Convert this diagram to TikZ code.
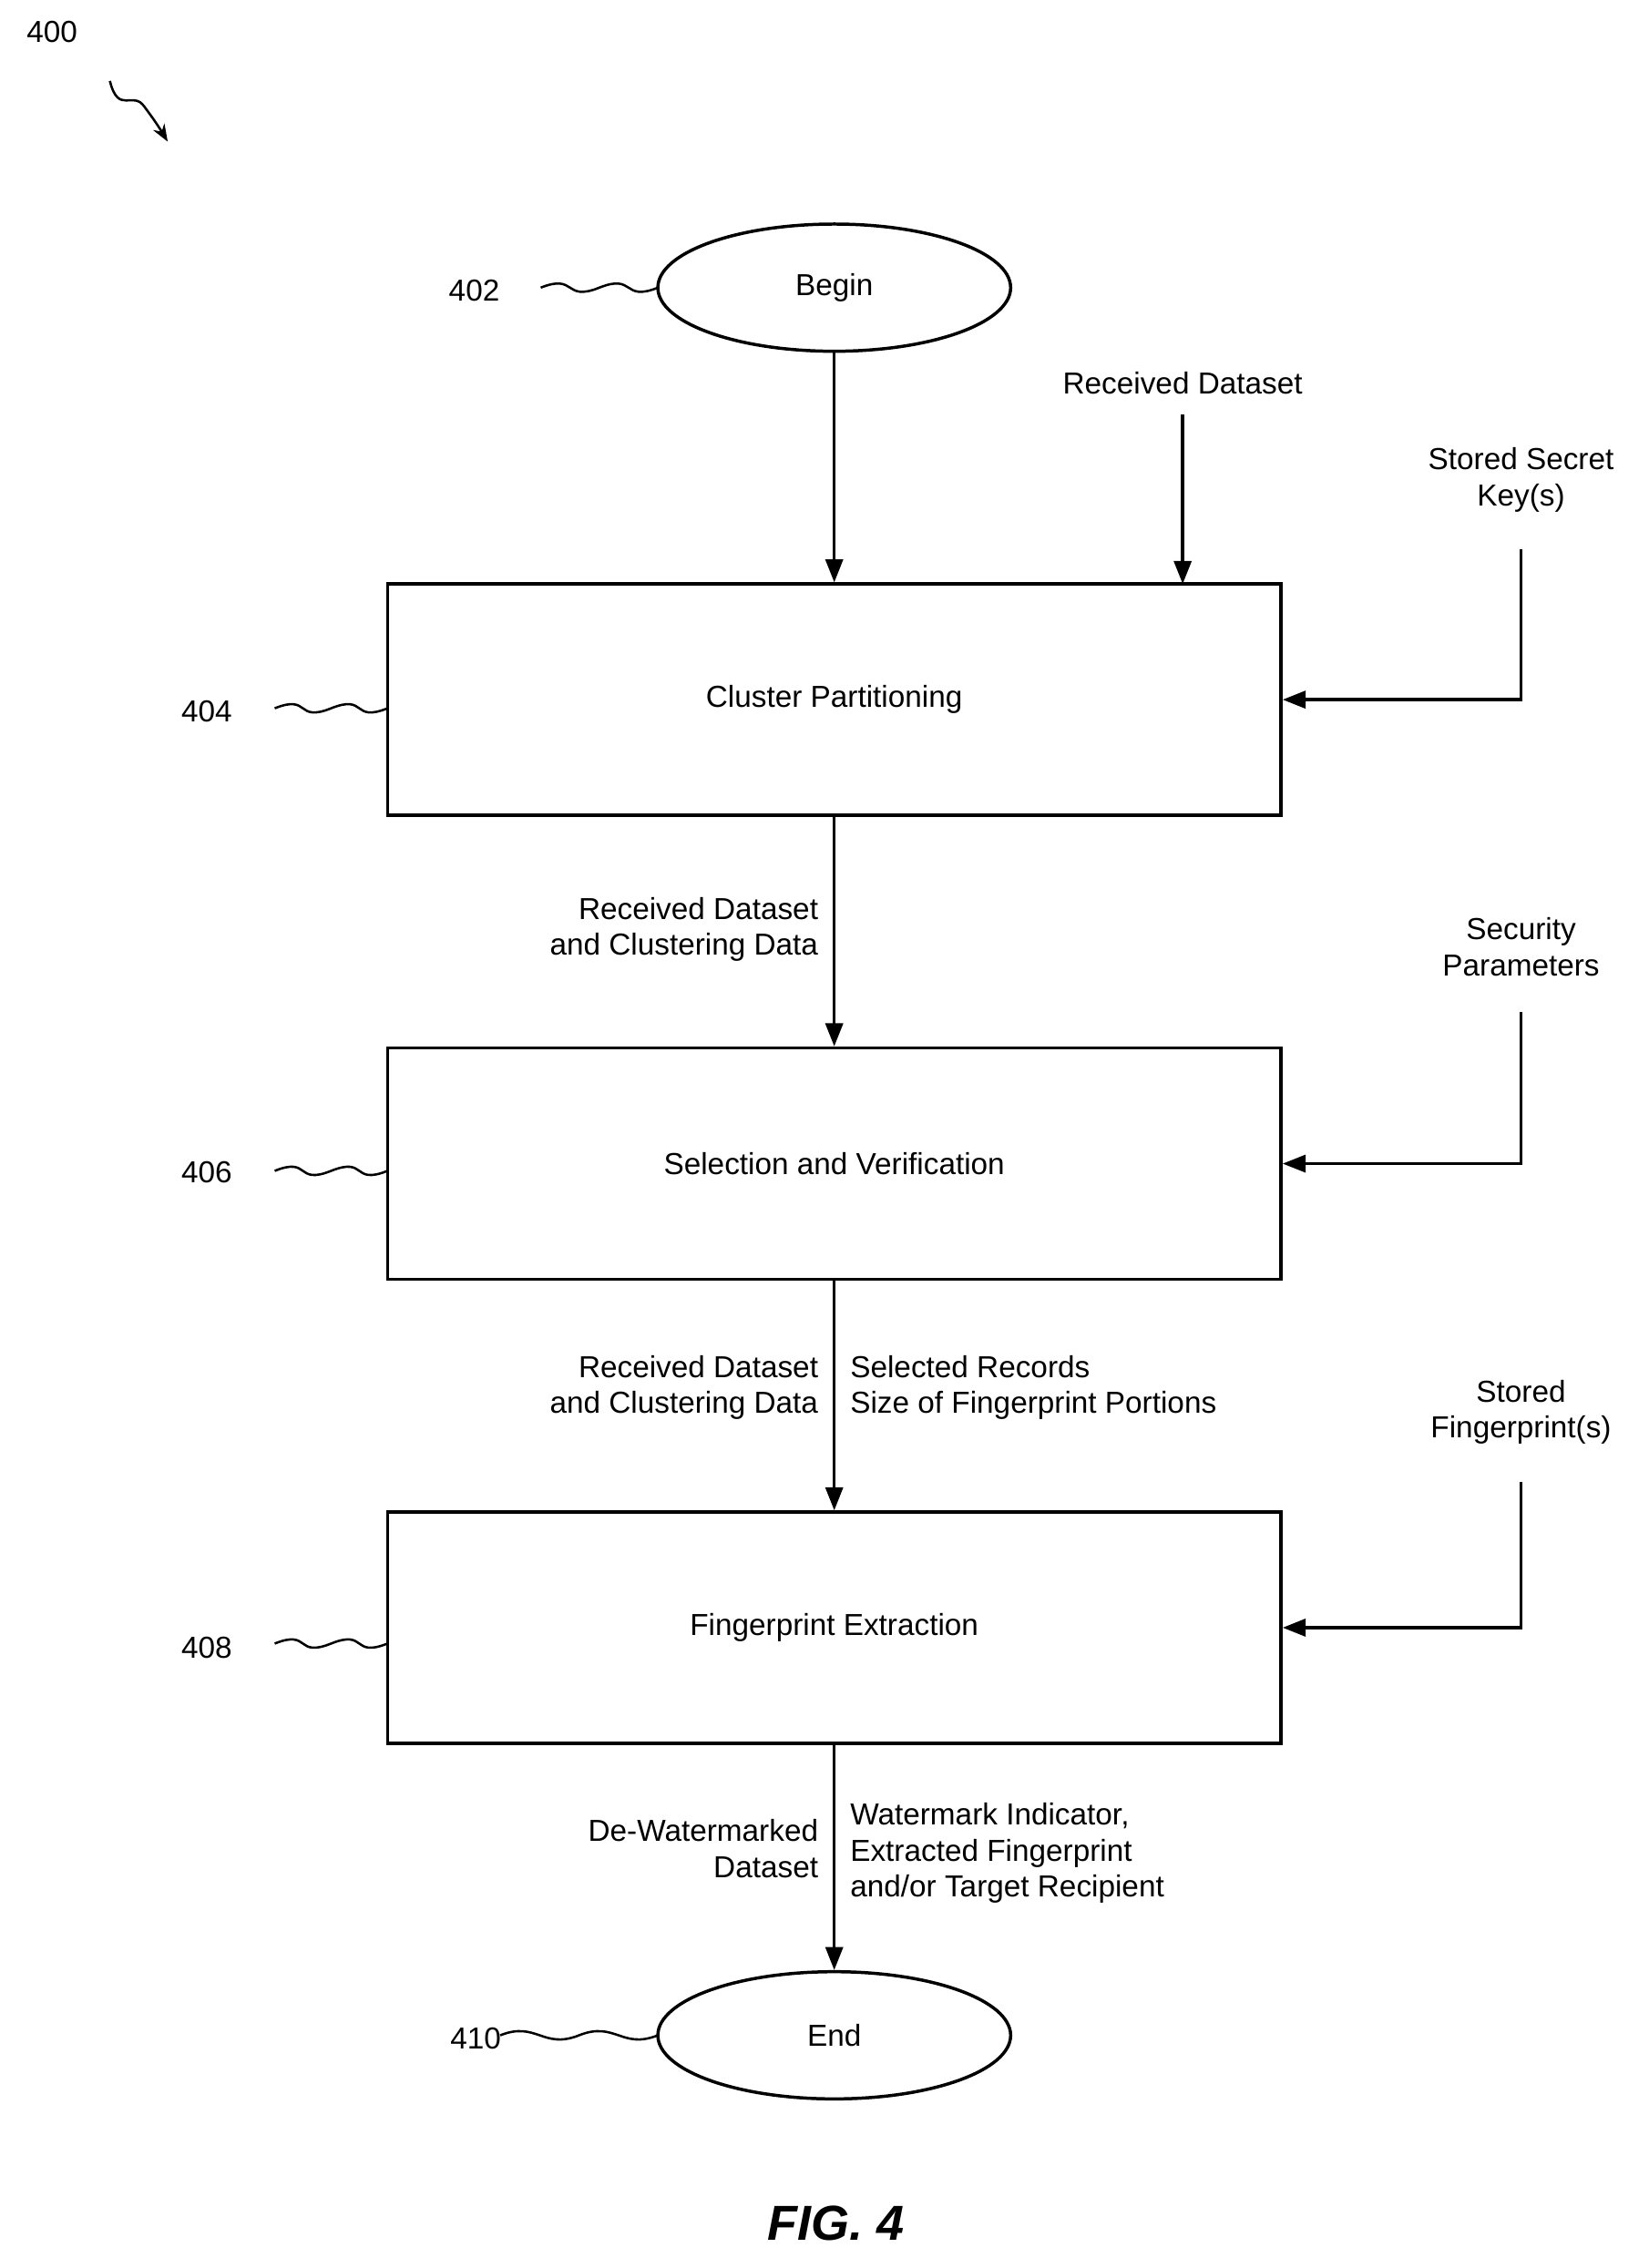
\documentclass[tikz,border=0pt]{standalone}
\usepackage{fontspec}
\setmainfont{Liberation Sans}
\usetikzlibrary{arrows.meta,shapes.geometric,calc}
\tikzset{every picture/.style={line width=2.2pt}}
\tikzset{
  stepbox/.style={draw, minimum width=618pt, minimum height=160pt, inner sep=0pt},
  term/.style={draw, ellipse, minimum width=244pt, minimum height=88pt, inner sep=0pt},
  lbl/.style={font=\fontsize{21}{25}\selectfont, inner sep=0pt},
  flow/.style={-{Triangle[length=16pt,width=12pt]}},
  squig/.style={line width=1.6pt}
}
\newcommand{\wiggle}[2]{\draw [squig] (#1) .. controls ++(25,-10) and ++(-25,10) .. ($(#1)!0.5!(#2)$) .. controls ++(25,-10) and ++(-25,10) .. (#2);}

\begin{document}
\begin{tikzpicture}[x=1pt,y=-1pt]
\useasboundingbox (0,0) rectangle (1140,1569);

% terminals and steps
\node [term] (begin) at (577,199) {\fontsize{21}{25}\selectfont Begin};
\node [stepbox] (part) at (577,484) {\fontsize{21}{25}\selectfont Cluster Partitioning};
\node [stepbox] (sel) at (577,805) {\fontsize{21}{25}\selectfont Selection and Verification};
\node [stepbox] (ext) at (577,1126) {\fontsize{21}{25}\selectfont Fingerprint Extraction};
\node [term] (end) at (577,1408) {\fontsize{21}{25}\selectfont End};

% main flow
\draw [flow] (begin) -- (part);
\draw [flow] (part) -- (sel);
\draw [flow] (sel) -- (ext);
\draw [flow] (ext) -- (end);

% inputs
\node [lbl] (rcv) at (818,265) {Received Dataset};
\coordinate (rcvtop) at (818,287);
\coordinate (rcvin) at (818,404);
\draw [flow] (rcvtop) -- (rcvin);
\node [lbl, align=center] (key) at (1052,332) {Stored Secret\\Key(s)};
\coordinate (keytop) at (1052,380);
\draw [flow] (keytop) |- (part.east);
\node [lbl, align=center] (sec) at (1052,655) {Security\\Parameters};
\coordinate (sectop) at (1052,700);
\draw [flow] (sectop) |- (sel.east);
\node [lbl, align=center] (fp) at (1052,977) {Stored\\Fingerprint(s)};
\coordinate (fptop) at (1052,1025);
\draw [flow] (fptop) |- (ext.east);

% flow labels
\node [lbl, align=right, anchor=east] (d1) at (567,643) {Received Dataset\\and Clustering Data};
\node [lbl, align=right, anchor=east] (d2) at (567,960) {Received Dataset\\and Clustering Data};
\node [lbl, align=left, anchor=west] (d3) at (587,960) {Selected Records\\Size of Fingerprint Portions};
\node [lbl, align=right, anchor=east] (d4) at (567,1279) {De-Watermarked\\Dataset};
\node [lbl, align=left, anchor=west] (d5) at (587,1282) {Watermark Indicator,\\Extracted Fingerprint\\and/or Target Recipient};

% reference numerals
\node [lbl] (n400) at (36,22) {400};
\node [lbl] (n402) at (328,201) {402};
\node [lbl] (n404) at (143,492) {404};
\node [lbl] (n406) at (143,811) {406};
\node [lbl] (n408) at (143,1140) {408};
\node [lbl] (n410) at (329,1410) {410};
\wiggle{374,199}{455,199}
\wiggle{190,490}{268,490}
\wiggle{190,810}{268,810}
\wiggle{190,1137}{268,1137}
\wiggle{346,1408}{455,1408}
\draw [squig, -{Stealth[length=12pt,width=9pt]}] (76,56) .. controls (82,80) and (92,62) .. (100,74) .. controls (106,82) and (110,88) .. (116,98);

\node [font=\fontsize{34}{40}\selectfont\bfseries\itshape] (fig) at (578,1538) {FIG. 4};
\end{tikzpicture}
\end{document}
